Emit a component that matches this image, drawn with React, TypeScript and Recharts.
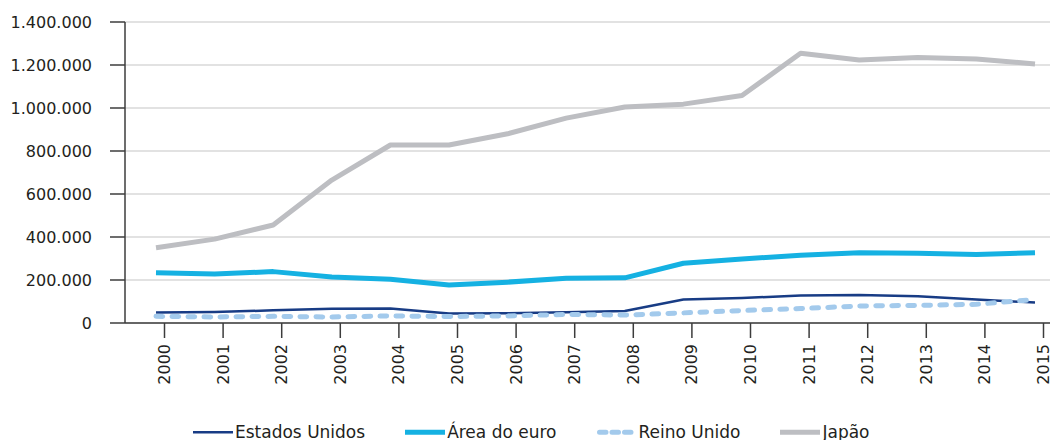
import { LineChart, Line, XAxis, YAxis, CartesianGrid, Legend } from 'recharts'

const years = ['2000', '2001', '2002', '2003', '2004', '2005', '2006', '2007', '2008', '2009', '2010', '2011', '2012', '2013', '2014', '2015']
const estadosUnidos = [49000, 51000, 59000, 66000, 68000, 44000, 45000, 50000, 56000, 109000, 116000, 128000, 130000, 124000, 109000, 95000]
const areaEuro = [234000, 228000, 239000, 214000, 203000, 177000, 190000, 208000, 210000, 278000, 298000, 315000, 327000, 324000, 319000, 327000]
const reinoUnido = [31000, 28000, 31000, 28000, 33000, 30000, 33000, 40000, 37000, 47000, 58000, 67000, 79000, 82000, 87000, 109000]
const japao = [350000, 390000, 456000, 665000, 828000, 828000, 880000, 953000, 1005000, 1018000, 1058000, 1255000, 1223000, 1235000, 1228000, 1205000]
const yTicks = [0, 200000, 400000, 600000, 800000, 1000000, 1200000, 1400000]

const series = [
  { key: 'eua', name: 'Estados Unidos', color: '#183c85', width: 2.5, dash: undefined as string | undefined },
  { key: 'euro', name: 'Área do euro', color: '#15b1e2', width: 5, dash: undefined as string | undefined },
  { key: 'uk', name: 'Reino Unido', color: '#a3caec', width: 5, dash: '6.7 9.3' },
  { key: 'jp', name: 'Japão', color: '#bdbec2', width: 5, dash: undefined as string | undefined },
]

const data = years.map((year, i) => ({
  year,
  eua: estadosUnidos[i],
  euro: areaEuro[i],
  uk: reinoUnido[i],
  jp: japao[i],
}))

const FONT = '"DejaVu Sans", sans-serif'
const TEXT = '#231f20'
const AXIS = '#3c3c3c'

const fmt = (v: number) => v.toString().replace(/\B(?=(\d{3})+(?!\d))/g, '.')

// year labels sit on ticks drawn a little right of the data points, as in the source
const YearTick = ({ x, y, payload }: any) => (
  <g transform={`translate(${x + 8.5},${y})`}>
    <line x1={0} y1={0} x2={0} y2={15} stroke={AXIS} strokeWidth={1.5} />
    <text
      transform="rotate(-90)"
      x={-21}
      y={0}
      textAnchor="end"
      dominantBaseline="central"
      fontFamily={FONT}
      fontSize={16}
      fill={TEXT}
    >
      {payload.value}
    </text>
  </g>
)

const LegendContent = () => (
  <div style={{ height: 30, display: 'flex', paddingLeft: 193, gap: 40, fontFamily: FONT, fontSize: 17, color: TEXT }}>
    {series.map((s) => (
      <div key={s.key} style={{ display: 'flex', alignItems: 'flex-start' }}>
        <svg width={40} height={30} style={{ display: 'block' }}>
          <line
            x1={s.dash ? 2.5 : 0}
            y1={22.3}
            x2={s.dash ? 37.5 : 40}
            y2={22.3}
            stroke={s.color}
            strokeWidth={s.width}
            strokeDasharray={s.dash ? '6.5 6' : undefined}
            strokeLinecap={s.dash ? 'round' : 'butt'}
          />
        </svg>
        <span style={{ marginLeft: 2, paddingTop: 12, lineHeight: '20px', whiteSpace: 'nowrap' }}>{s.name}</span>
      </div>
    ))}
  </div>
)

export default function App() {
  return (
    <div style={{ position: 'absolute', top: 0, left: 0, background: '#fff' }}>
      <LineChart width={1053} height={440} data={data} margin={{ top: 22, right: 3, left: 0, bottom: 0 }}>
        <CartesianGrid vertical={false} stroke="#d9d9d9" strokeWidth={1.5} />
        <XAxis
          dataKey="year"
          height={87}
          padding={{ left: 31, right: 15 }}
          stroke={AXIS}
          strokeWidth={1.5}
          tickLine={false}
          tickSize={0}
          tickMargin={0}
          tick={<YearTick />}
          interval={0}
        />
        <YAxis
          width={125}
          domain={[0, 1400000]}
          ticks={yTicks}
          tickFormatter={fmt}
          stroke={AXIS}
          strokeWidth={1.5}
          tickSize={15}
          tickMargin={18}
          tick={{ fontFamily: FONT, fontSize: 16, fill: TEXT }}
          interval={0}
        />
        <Legend verticalAlign="bottom" height={30} content={<LegendContent />} wrapperStyle={{ left: 0, width: 1053, bottom: 0 }} />
        {series.map((s) => (
          <Line
            key={s.key}
            dataKey={s.key}
            name={s.name}
            type="linear"
            stroke={s.color}
            strokeWidth={s.width}
            strokeDasharray={s.dash}
            strokeLinecap={s.dash ? 'round' : 'butt'}
            strokeLinejoin="round"
            dot={false}
            activeDot={false}
            isAnimationActive={false}
          />
        ))}
      </LineChart>
    </div>
  )
}
